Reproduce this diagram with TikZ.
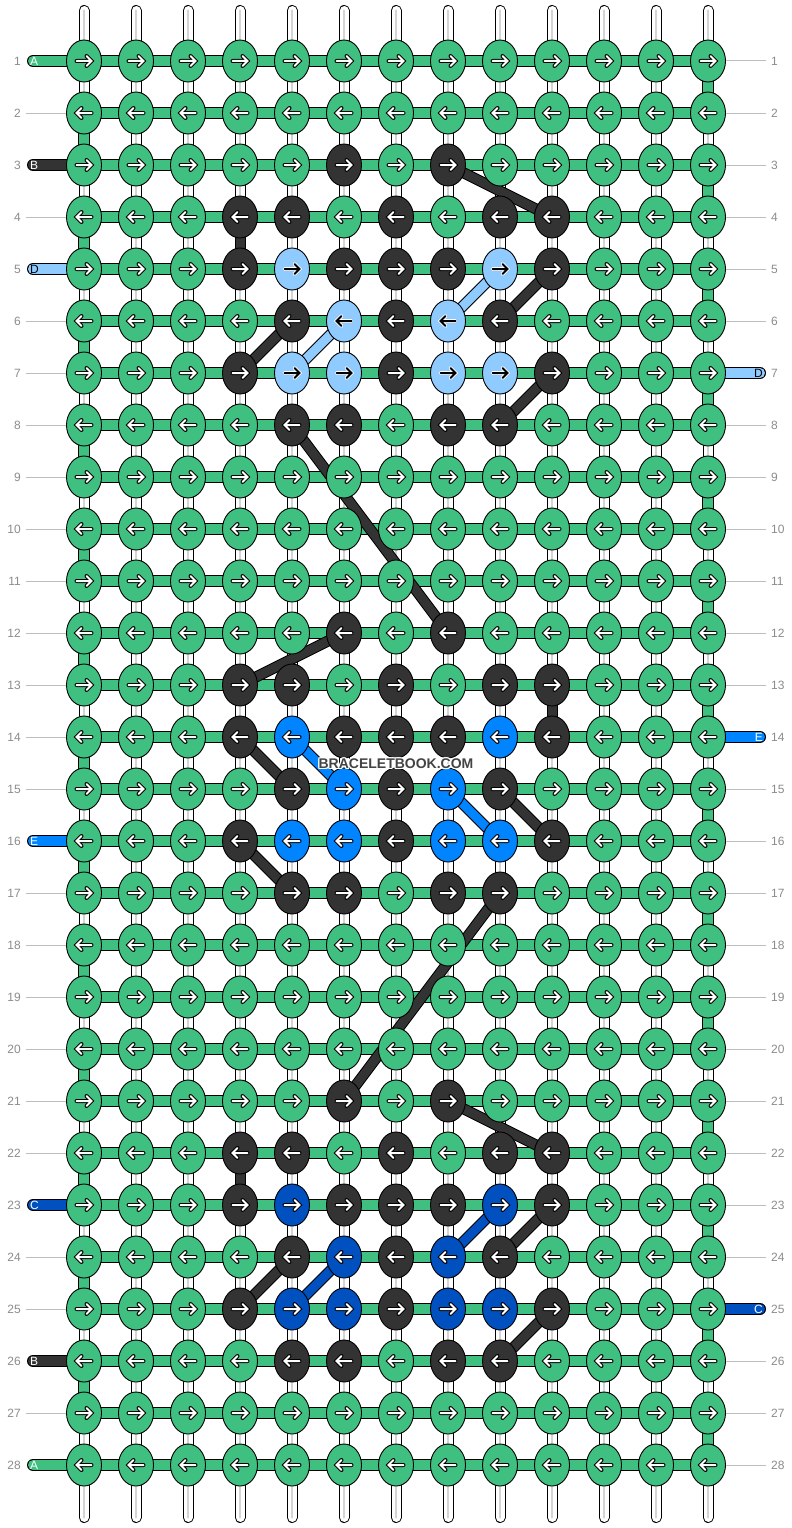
\documentclass[tikz,border=0pt]{standalone}
\usepackage{fontspec}
\setmainfont{Liberation Sans}
\usetikzlibrary{shapes.geometric}
\definecolor{cG}{RGB}{64,192,128}
\definecolor{cK}{RGB}{51,51,51}
\definecolor{cL}{RGB}{143,203,255}
\definecolor{cE}{RGB}{0,132,255}
\definecolor{cC}{RGB}{0,80,192}
\definecolor{numgray}{RGB}{140,140,140}
\definecolor{linegray}{RGB}{190,190,190}
\definecolor{wmgray}{RGB}{68,68,68}
\tikzset{
  strandout/.style={line width=11pt, line cap=round, draw=black},
  strandin/.style={line width=9pt, line cap=round, draw=white},
  strandmid/.style={line width=2.4pt, line cap=round, draw=black!17},
  bandout/.style={line width=12pt, draw=black},
  bandin/.style={line width=10pt, draw=#1},
  pillout/.style={line width=12pt, line cap=round, draw=black},
  pillin/.style={line width=10pt, line cap=round, draw=#1},
  diagout/.style={line width=11pt, draw=black},
  diagin/.style={line width=9pt, draw=#1},
  knot/.style={ellipse, draw=black, line width=0.9pt, minimum width=35pt, minimum height=42pt, inner sep=0pt, fill=#1},
  arrowpath/.style={line cap=round, line join=miter},
  aoG/.style={draw=black, line width=4pt},
  aoK/.style={draw=black, line width=4pt},
  aoE/.style={draw=black, line width=4pt},
  aoC/.style={draw=black, line width=4pt},
  aoL/.style={draw=white, line width=3.6pt},
  aiG/.style={draw=white, line width=2pt},
  aiK/.style={draw=white, line width=2pt},
  aiE/.style={draw=white, line width=2pt},
  aiC/.style={draw=white, line width=2pt},
  aiL/.style={draw=black, line width=2pt},
  plG/.style={text=white},
  plK/.style={text=white},
  plE/.style={text=white},
  plC/.style={text=white},
  plL/.style={text=black},
  rownum/.style={text=numgray, font=\fontsize{12}{12}\selectfont, inner sep=0pt},
  guide/.style={draw=linegray, line width=1pt},
  pilllabel/.style={font=\fontsize{12}{12}\selectfont, inner sep=0pt},
  wm/.style={font=\bfseries\fontsize{14}{14}\selectfont, inner sep=0pt}
}
\begin{document}
\begin{tikzpicture}[x=1pt,y=-1pt]
\useasboundingbox (0,0) rectangle (792,1528);
\fill[white] (0,0) rectangle (792,1528);
% grid coordinates
\foreach \r in {1,...,28}{
  \foreach \c in {1,...,13}{
    \coordinate (p-\r-\c) at ({84+52*(\c-1)},{61+52*(\r-1)});
  }
}
\foreach \c in {1,...,13}{
  \coordinate (t-\c) at ({84+52*(\c-1)},10.5);
  \coordinate (b-\c) at ({84+52*(\c-1)},1517.5);
}
% vertical strands
\foreach \c in {1,...,13}{
  \draw[strandout] (t-\c) -- (b-\c);
  \draw[strandin] (t-\c) -- (b-\c);
  \draw[strandmid] (t-\c) -- (b-\c);
}
% horizontal bands
\foreach \r in {1,...,28}{
  \draw[bandout] (p-\r-1) -- (p-\r-13);
  \draw[bandin=cG] (p-\r-1) -- (p-\r-13);
}
% turnarounds
\foreach \r in {1,3,...,27}{
  \pgfmathtruncatemacro\rn{\r+1}
  \draw[bandout] (p-\r-13) -- (p-\rn-13);
  \draw[bandin=cG] (p-\r-13) -- (p-\rn-13);
}
\foreach \r in {2,4,...,26}{
  \pgfmathtruncatemacro\rn{\r+1}
  \draw[bandout] (p-\r-1) -- (p-\rn-1);
  \draw[bandin=cG] (p-\r-1) -- (p-\rn-1);
}
% coloured vertical segments
\foreach \ra/\rb/\c in {4/5/4, 13/14/10, 22/23/4}{
  \draw[line width=11pt, draw=black] (p-\ra-\c) -- (p-\rb-\c);
  \draw[line width=9pt, draw=cK] (p-\ra-\c) -- (p-\rb-\c);
}
% diagonals
\foreach \ra/\ca/\rb/\cb/\col in {3/8/4/10/K, 5/10/6/9/K, 5/9/6/8/L, 6/5/7/4/K, 6/6/7/5/L,
  7/10/8/9/K, 8/5/12/8/K, 12/6/13/4/K, 14/4/15/5/K, 14/5/15/6/E, 15/8/16/9/E,
  15/9/16/10/K, 16/4/17/5/K, 17/9/21/6/K, 21/8/22/10/K, 23/10/24/9/K, 23/9/24/8/C,
  24/5/25/4/K, 24/6/25/5/C, 25/10/26/9/K}{
  \draw[diagout] (p-\ra-\ca) -- (p-\rb-\cb);
  \draw[diagin=c\col] (p-\ra-\ca) -- (p-\rb-\cb);
}
% left pills
\foreach \r/\col/\txt in {1/G/A, 3/K/B, 5/L/D, 16/E/E, 23/C/C, 26/K/B, 28/G/A}{
  \coordinate (lp-\r) at (33,{61+52*(\r-1)});
  \draw[pillout] (lp-\r) -- ([xshift=-8pt]p-\r-1);
  \draw[pillin=c\col] (lp-\r) -- ([xshift=-8pt]p-\r-1);
  \node[pilllabel, pl\col, anchor=west] (lt-\r) at (30,{61.5+52*(\r-1)}) {\txt};
}
% right pills
\foreach \r/\col/\txt in {7/L/D, 14/E/E, 25/C/C}{
  \coordinate (rp-\r) at (760,{61+52*(\r-1)});
  \draw[pillout] ([xshift=8pt]p-\r-13) -- (rp-\r);
  \draw[pillin=c\col] ([xshift=8pt]p-\r-13) -- (rp-\r);
  \node[pilllabel, pl\col, anchor=east] (rt-\r) at (763,{61.5+52*(\r-1)}) {\txt};
}
% guide lines
\foreach \r in {2,4,6,7,8,9,10,11,12,13,14,15,17,18,19,20,21,22,24,25,27}{
  \coordinate (gl-\r) at (26,{61+52*(\r-1)});
  \draw[guide] (gl-\r) -- ([xshift=-18pt]p-\r-1);
}
\foreach \r in {1,2,3,4,5,6,8,9,10,11,12,13,15,16,17,18,19,20,21,22,23,24,26,27,28}{
  \coordinate (gr-\r) at (766,{61+52*(\r-1)});
  \draw[guide] ([xshift=18pt]p-\r-13) -- (gr-\r);
}
% row numbers
\foreach \r in {1,...,28}{
  \node[rownum, anchor=east] (ln-\r) at (21,{61+52*(\r-1)}) {\r};
  \node[rownum, anchor=west] (rn-\r) at (771,{61+52*(\r-1)}) {\r};
}
% knots
\foreach \r/\cols in {
  1/{G,G,G,G,G,G,G,G,G,G,G,G,G},
  2/{G,G,G,G,G,G,G,G,G,G,G,G,G},
  3/{G,G,G,G,G,K,G,K,G,G,G,G,G},
  4/{G,G,G,K,K,G,K,G,K,K,G,G,G},
  5/{G,G,G,K,L,K,K,K,L,K,G,G,G},
  6/{G,G,G,G,K,L,K,L,K,G,G,G,G},
  7/{G,G,G,K,L,L,K,L,L,K,G,G,G},
  8/{G,G,G,G,K,K,G,K,K,G,G,G,G},
  9/{G,G,G,G,G,G,G,G,G,G,G,G,G},
  10/{G,G,G,G,G,G,G,G,G,G,G,G,G},
  11/{G,G,G,G,G,G,G,G,G,G,G,G,G},
  12/{G,G,G,G,G,K,G,K,G,G,G,G,G},
  13/{G,G,G,K,K,G,K,G,K,K,G,G,G},
  14/{G,G,G,K,E,K,K,K,E,K,G,G,G},
  15/{G,G,G,G,K,E,K,E,K,G,G,G,G},
  16/{G,G,G,K,E,E,K,E,E,K,G,G,G},
  17/{G,G,G,G,K,K,G,K,K,G,G,G,G},
  18/{G,G,G,G,G,G,G,G,G,G,G,G,G},
  19/{G,G,G,G,G,G,G,G,G,G,G,G,G},
  20/{G,G,G,G,G,G,G,G,G,G,G,G,G},
  21/{G,G,G,G,G,K,G,K,G,G,G,G,G},
  22/{G,G,G,K,K,G,K,G,K,K,G,G,G},
  23/{G,G,G,K,C,K,K,K,C,K,G,G,G},
  24/{G,G,G,G,K,C,K,C,K,G,G,G,G},
  25/{G,G,G,K,C,C,K,C,C,K,G,G,G},
  26/{G,G,G,G,K,K,G,K,K,G,G,G,G},
  27/{G,G,G,G,G,G,G,G,G,G,G,G,G},
  28/{G,G,G,G,G,G,G,G,G,G,G,G,G}}{
  \pgfmathtruncatemacro\dir{1-2*mod(\r+1,2)}
  \foreach \col [count=\c] in \cols {
    \node[knot=c\col] (k-\r-\c) at (p-\r-\c) {};
    \begin{scope}[shift={(k-\r-\c.center)}, xscale=\dir]
      \draw[arrowpath, ao\col] (-7.5,0) -- (7,0) (2.5,-5) -- (7.5,0) -- (2.5,5);
      \draw[arrowpath, ai\col] (-7.5,0) -- (7,0) (2.5,-5) -- (7.5,0) -- (2.5,5);
    \end{scope}
  }
}
% watermark
\foreach \dx/\dy in {-1/-1,0/-1,1/-1,-1/0,1/0,-1/1,0/1,1/1}{
  \node[wm, text=white] at ({396+\dx},{763.5+\dy}) {BRACELETBOOK.COM};
}
\node[wm, text=wmgray] (wmark) at (396,763.5) {BRACELETBOOK.COM};
\end{tikzpicture}
\end{document}
